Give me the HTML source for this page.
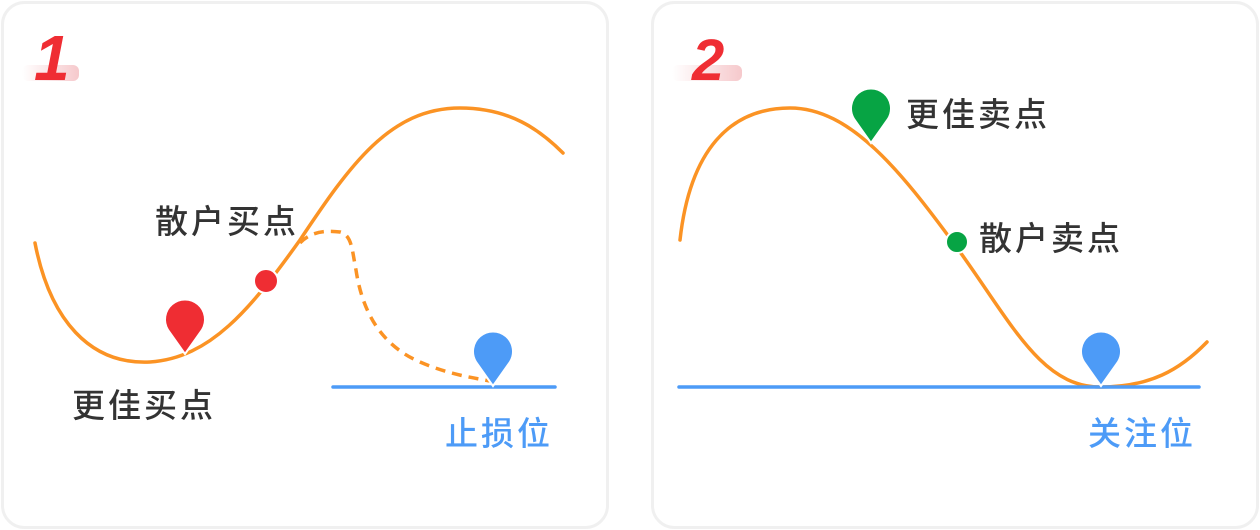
<!DOCTYPE html>
<html><head><meta charset="utf-8"><style>
html,body{margin:0;background:#fff;overflow:hidden;}
svg{display:block;}
svg text{font-family:"Liberation Sans","Noto Sans CJK SC",sans-serif;}
</style></head><body>
<svg width="1260" height="530" viewBox="0 0 1260 530" xmlns="http://www.w3.org/2000/svg">
<defs>
<linearGradient id="g" x1="0" x2="1"><stop offset="0" stop-color="#f6c9cc" stop-opacity="0"/><stop offset="1" stop-color="#f6c9cc"/></linearGradient>
</defs>
<rect x="0" y="0" width="1260" height="530" fill="#fff"/>
<rect x="2.5" y="2.5" width="605" height="525" rx="22" fill="#fff" stroke="#f0f0f0" stroke-width="3"/>
<rect x="652.5" y="2.5" width="605" height="525" rx="22" fill="#fff" stroke="#f0f0f0" stroke-width="3"/>
<!-- panel 1 -->
<rect x="22" y="65" width="57" height="16" rx="6" fill="url(#g)"/>
<text x="34" y="80" font-size="64" font-weight="bold" font-style="italic" fill="#ef2d33">1</text>
<rect x="672" y="65" width="70" height="16" rx="6" fill="url(#g)"/>
<text x="692" y="80" font-size="58" font-weight="bold" font-style="italic" fill="#ef2d33">2</text>

<path d="M35,243 C50,320 90,365 150,362 C210,358 250,310 300,240 C350,165 390,108 460,108 C510,108 540,130 563,153" fill="none" stroke="#fb9324" stroke-width="3.5" stroke-linecap="round"/>
<path d="M300,243 C310,232 325,230 340,232 C352,235 352,250 356,270 C362,310 380,345 420,362 C450,375 475,378 490,381" fill="none" stroke="#fb9324" stroke-width="3.5" stroke-dasharray="10,7"/>
<line x1="333" y1="387" x2="555" y2="387" stroke="#4d9bf7" stroke-width="3.5" stroke-linecap="round"/>
<circle cx="266" cy="281" r="12" fill="#ef2d33" stroke="#fff" stroke-width="2"/>
<path d="M185,354 L168,330 A20 20 0 1 1 202,330 Z" fill="#ef2d33" stroke="#fff" stroke-width="2"/>
<path d="M493,386 L476,362 A20 20 0 1 1 510,362 Z" fill="#4d9bf7" stroke="#fff" stroke-width="2"/>
<text x="155" y="233" font-size="33" font-weight="500" letter-spacing="3" fill="#333">散户买点</text>
<text x="72" y="417" font-size="33" font-weight="500" letter-spacing="3" fill="#333">更佳买点</text>
<text x="445" y="445" font-size="33" font-weight="500" letter-spacing="3" fill="#4d9bf7">止损位</text>

<!-- panel 2 -->
<path d="M680,240 C690,150 730,108 790,108 C850,108 900,170 955,245 C1010,320 1040,387 1100,387 C1150,387 1180,370 1207,342" fill="none" stroke="#fb9324" stroke-width="3.5" stroke-linecap="round"/>
<line x1="679" y1="387" x2="1199" y2="387" stroke="#4d9bf7" stroke-width="3.5" stroke-linecap="round"/>
<path d="M871,143 L854,119 A20 20 0 1 1 888,119 Z" fill="#07a444" stroke="#fff" stroke-width="2"/>
<circle cx="957" cy="242" r="11" fill="#07a444" stroke="#fff" stroke-width="2"/>
<path d="M1101,386 L1084,362 A20 20 0 1 1 1118,362 Z" fill="#4d9bf7" stroke="#fff" stroke-width="2"/>
<text x="906" y="126" font-size="33" font-weight="500" letter-spacing="3" fill="#333">更佳卖点</text>
<text x="979" y="250" font-size="33" font-weight="500" letter-spacing="3" fill="#333">散户卖点</text>
<text x="1088" y="445" font-size="33" font-weight="500" letter-spacing="3" fill="#4d9bf7">关注位</text>
</svg>
</body></html>
